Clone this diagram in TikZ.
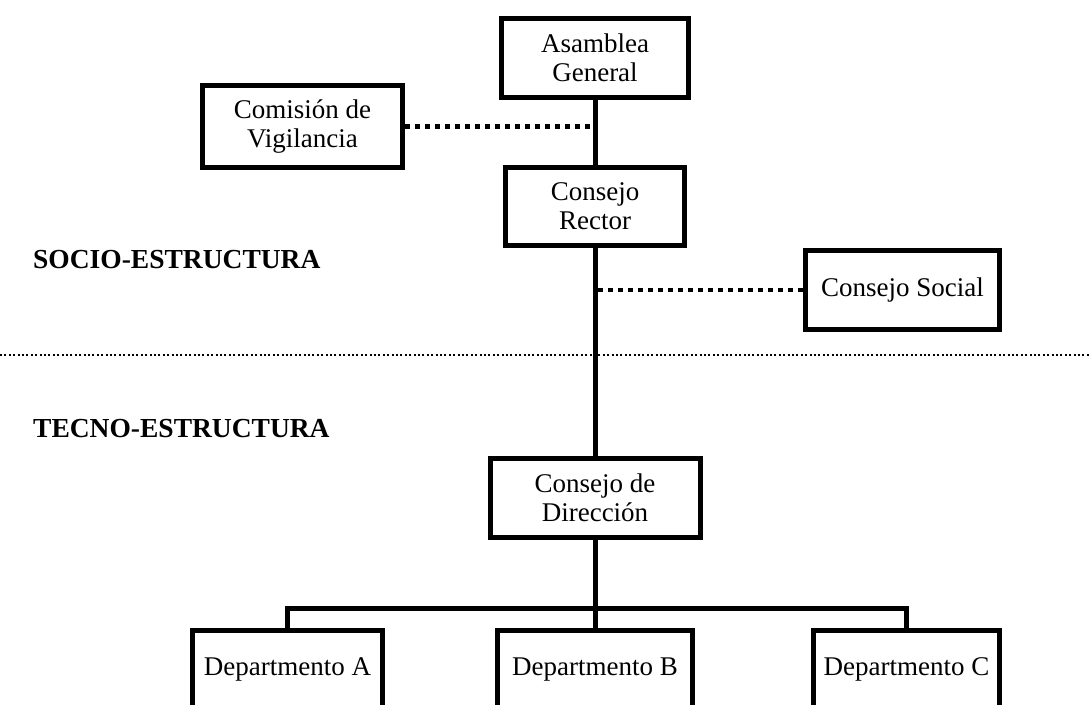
\documentclass[tikz,border=0pt]{standalone}
\usepackage{fontspec}
\setmainfont{Liberation Serif}
\begin{document}
\begin{tikzpicture}[x=1pt,y=-1pt,
  box/.style={draw, line width=5pt, align=center, inner sep=0pt,
    font=\fontsize{27}{29}\selectfont},
  dept/.style={box, anchor=north, text height=45.5pt, text depth=60pt},
  lab/.style={anchor=base west, inner sep=0pt, font=\fontsize{27.5}{30}\selectfont\bfseries},
  solidlink/.style={line width=5pt},
  dotlink/.style={line width=4.5pt, dash pattern=on 5pt off 5pt},
  divider/.style={line width=2pt, dash pattern=on 2pt off 2.4pt}]
\useasboundingbox (0,0) rectangle (1089,704);

\node[box, minimum width=187pt, minimum height=79pt] (asam) at (595,58) {Asamblea\\General};
\node[box, minimum width=200pt, minimum height=82pt] (comi) at (302.5,126.5) {Comisión de\\Vigilancia};
\node[box, minimum width=179pt, minimum height=78pt] (rect) at (595,206.5) {Consejo\\Rector};
\node[box, minimum width=194pt, minimum height=79pt] (soc) at (902.5,290) {Consejo Social};
\node[box, minimum width=210pt, minimum height=79pt] (dir) at (595,498) {Consejo de\\Dirección};
\node[dept, minimum width=190pt] (depA) at (287.5,627.5) {Departmento A};
\node[dept, minimum width=195pt] (depB) at (595,627.5) {Departmento B};
\node[dept, minimum width=186pt] (depC) at (906.5,627.5) {Departmento C};

\node[lab] (socio) at (33,268) {SOCIO-ESTRUCTURA};
\node[lab] (tecno) at (33,437) {TECNO-ESTRUCTURA};

\coordinate (divL) at (0,355);
\coordinate (divR) at (1089,355);
\draw[divider] (divL) -- (divR);

\draw[solidlink] (asam.south) -- (rect.north);
\draw[solidlink] (rect.south) -- (dir.north);
\draw[solidlink] (dir.south) -- (depB.north);
\draw[solidlink] (depA.north) -- ++(0,-19.5) -| (depC.north);

\draw[dotlink] (comi.east) -- (comi.east -| rect.north);
\draw[dotlink] (soc.west) -- (soc.west -| rect.south);
\end{tikzpicture}
\end{document}
